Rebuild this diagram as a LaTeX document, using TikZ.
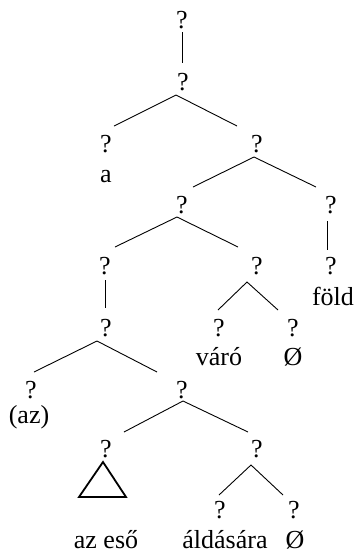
\documentclass[tikz,border=0pt]{standalone}
\usepackage{fontspec}
\setmainfont{Liberation Serif}
\begin{document}
\begin{tikzpicture}[x=1pt,y=-1pt,
  lbl/.style={font=\fontsize{26}{31}\selectfont, inner sep=0pt, anchor=base},
  edge/.style={line width=0.9pt},
  tri/.style={line width=1.8pt, line join=miter}]
\useasboundingbox (0,0) rectangle (357,558);
% tree nodes
\node[lbl] (r)   at (182,28)  {?};
\node[lbl] (n2)  at (183,90)  {?};
\node[lbl] (n3l) at (106,152) {?};
\node[lbl] (n3r) at (257,152) {?};
\node[lbl] (n4l) at (182,213) {?};
\node[lbl] (n4r) at (331,213) {?};
\node[lbl] (n5a) at (105,274) {?};
\node[lbl] (n5b) at (257,274) {?};
\node[lbl] (n5c) at (331,274) {?};
\node[lbl] (n6a) at (106,336) {?};
\node[lbl] (n6b) at (219,336) {?};
\node[lbl] (n6c) at (293,336) {?};
\node[lbl] (n7a) at (31,398)  {?};
\node[lbl] (n7b) at (182,398) {?};
\node[lbl] (n8a) at (106,457) {?};
\node[lbl] (n8b) at (257,457) {?};
\node[lbl] (n9a) at (220,518) {?};
\node[lbl] (n9b) at (294,518) {?};
% word labels
\node[lbl] (wa)    at (106,182) {a};
\node[lbl] (wfold) at (333,305) {föld};
\node[lbl] (wvaro) at (219,365) {váró};
\node[lbl] (wnull) at (293,365) {Ø};
\node[lbl] (waz)   at (29,423)  {(az)};
\node[lbl] (weso)  at (106,548) {az eső};
\node[lbl] (wald)  at (225,548) {áldására};
\node[lbl] (wnul2) at (295,548) {Ø};
% edges
\draw[edge] ([shift={(0,4)}]r.base) -- ([shift={(-1,-27)}]n2.base);
\draw[edge] ([shift={(8,-26)}]n3l.base) -- ([shift={(-7,5)}]n2.base) -- ([shift={(-20,-26)}]n3r.base);
\draw[edge] ([shift={(11,-26)}]n4l.base) -- ([shift={(-3,5)}]n3r.base) -- ([shift={(-15,-26)}]n4r.base);
\draw[edge] ([shift={(10,-27)}]n5a.base) -- ([shift={(-5,4)}]n4l.base) -- ([shift={(-19,-27)}]n5b.base);
\draw[edge] ([shift={(-4,8)}]n4r.base) -- ([shift={(-4,-24)}]n5c.base);
\draw[edge] ([shift={(0,6)}]n5a.base) -- ([shift={(-1,-28)}]n6a.base);
\draw[edge] ([shift={(-1,-26)}]n6b.base) -- ([shift={(-10,8)}]n5b.base) -- ([shift={(-15,-26)}]n6c.base);
\draw[edge] ([shift={(3,-26)}]n7a.base) -- ([shift={(-9,5)}]n6a.base) -- ([shift={(-25,-26)}]n7b.base);
\draw[edge] ([shift={(18,-25)}]n8a.base) -- ([shift={(1,3)}]n7b.base) -- ([shift={(-9,-25)}]n8b.base);
\draw[edge] ([shift={(-1,-23)}]n9a.base) -- ([shift={(-6,8)}]n8b.base) -- ([shift={(-11,-23)}]n9b.base);
% triangle
\draw[tri] ([shift={(-3,5)}]n8a.base) -- ([shift={(-27,40)}]n8a.base) -- ([shift={(20,40)}]n8a.base) -- cycle;
\end{tikzpicture}
\end{document}
